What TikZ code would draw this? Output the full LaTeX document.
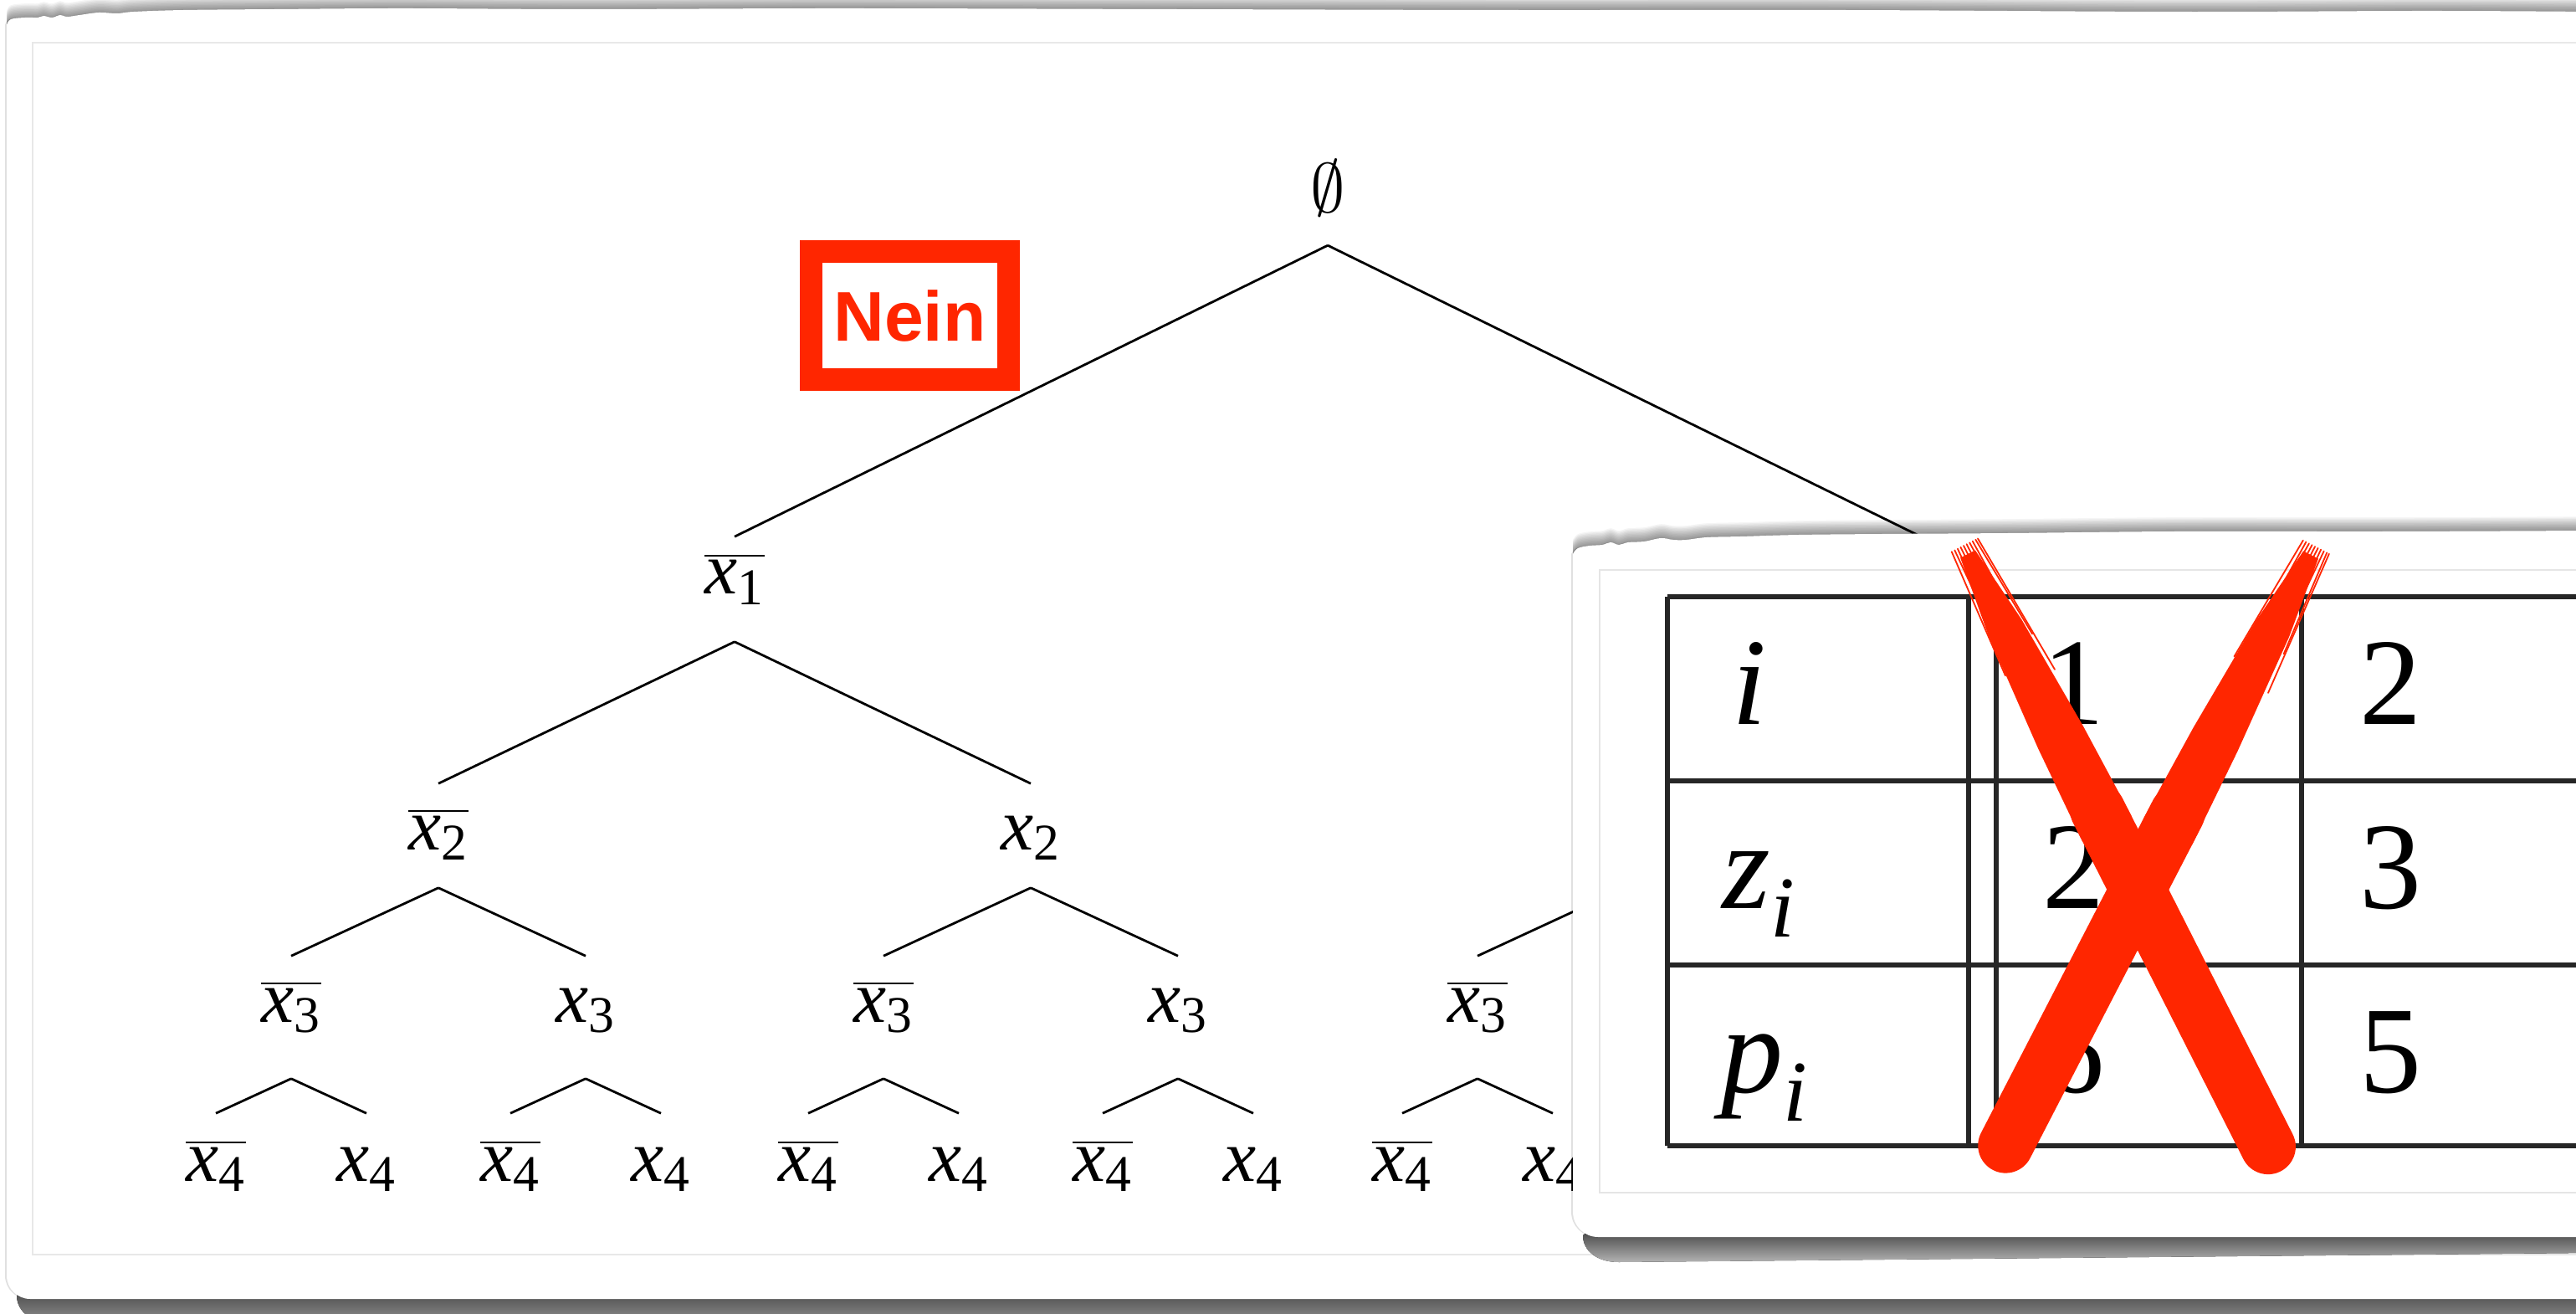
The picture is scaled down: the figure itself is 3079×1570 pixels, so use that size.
\documentclass[tikz,border=0pt]{standalone}
\usepackage{fontspec}
\setmainfont{Liberation Serif}
\newfontfamily\neinfont{Liberation Sans}
\usetikzlibrary{calc}
\definecolor{nred}{RGB}{255,38,0}
\newcommand{\xs}[1]{\textit{x}\textsubscript{#1}}
\newcommand{\xb}[1]{$\overline{\hbox{\xs{#1}}}$}
\newcommand{\vs}[1]{\textit{#1}\textsubscript{\textit{i}}}
\tikzset{
 cardp/.style={insert path={(8,40) -- plot[smooth,tension=0.6] coordinates {(8,30) (13,23) (30,21) (45,21) (52,19) (62,21) (72,18) (80,20) (95,18) (118,15) (140,16) (160,14) (220,12) (330,11) (480,10) (700,11) (1000,10) (1400,11) (1800,12) (2200,12) (2600,14) (2900,13) (3095,14)} -- (3095,1552) -- (36,1552) .. controls (20.5,1552) and (8,1539.5) .. (8,1524) -- cycle}},
 panelp/.style={insert path={(1880,670) -- plot[smooth,tension=0.6] coordinates {(1880,662) (1886,655) (1900,652) (1915,651) (1925,648) (1935,651) (1946,648) (1965,647) (1985,643) (2000,645) (2015,645) (2040,642) (2080,641) (2150,639) (2250,638) (2400,637) (2600,635) (2850,635) (3095,634)} -- (3095,1478) -- (1910,1478) .. controls (1893.4,1478) and (1880,1464.6) .. (1880,1448) -- cycle}},
 tn/.style={font=\fontsize{22}{26}\selectfont, inner sep=0pt, text height=15pt, text depth=4pt, anchor=base},
 tline/.style={draw=black, line width=0.7pt},
 tabl/.style={draw=black!85, line width=1.3pt},
 tabf/.style={font=\fontsize{37}{44}\selectfont, inner sep=0pt, anchor=base},
 brush/.style={nred, line width=16.5pt, line cap=round},
 hair/.style={nred, line width=0.45pt, line cap=round},
}
\begin{document}
\begin{tikzpicture}[x=0.25pt,y=-0.25pt]
\useasboundingbox (0,0) rectangle (3079,1570);
\fill[white] (0,0) rectangle (3079,1570);
% ---------- card ----------
\fill[top color=black!72, bottom color=black!48] (30,1540) -- (3095,1540) -- (3095,1575) -- (40,1575) .. controls (28,1572) and (20,1560) .. (20,1548) -- cycle;
\foreach \k in {1,...,12} {\fill[black, opacity=0.04, yshift=\k*0.35pt, cardp];}
\fill[black, opacity=0.12, xshift=-0.5pt, cardp];
\fill[white, cardp];
\draw[black!9, line width=0.4pt] (39,51) rectangle (3100,1499);
% ---------- tree ----------
\node[font=\fontsize{22}{26}\selectfont, inner sep=0pt] (a) at (1587,225) {$\emptyset$};
\node[tn] (b0) at (878,710) {\xb{1}};
\node[tn] (b1) at (2296,710) {\xs{1}};
\foreach \i/\x in {0/524,1/1232,2/1942,3/2650} {
  \node[tn] (c\i) at (\x,1015) {\ifodd\i \xs{2}\else\xb{2}\fi};
}
\foreach \i/\x in {0/348,1/700,2/1056,3/1408,4/1766,5/2118,6/2474,7/2826} {
  \node[tn] (d\i) at (\x,1221) {\ifodd\i \xs{3}\else\xb{3}\fi};
}
\foreach \i/\x in {0/258,1/438,2/610,3/790,4/966,5/1146,6/1318,7/1498,8/1676,9/1856,10/2028,11/2208,12/2384,13/2564,14/2736,15/2916} {
  \node[tn] (e\i) at (\x,1411) {\ifodd\i \xs{4}\else\xb{4}\fi};
}
\foreach \i in {0,1} {\draw[tline] ([yshift=-8.5pt]a.south) -- ([yshift=2pt]b\i.north);}
\foreach \i in {0,...,3} {\pgfmathtruncatemacro\p{floor(\i/2)}\draw[tline] ([yshift=-10pt]b\p.south) -- ([yshift=4.5pt]c\i.north);}
\foreach \i in {0,...,7} {\pgfmathtruncatemacro\p{floor(\i/2)}\draw[tline] ([yshift=-7.25pt]c\p.south) -- ([yshift=4.5pt]d\i.north);}
\foreach \i in {0,...,15} {\pgfmathtruncatemacro\p{floor(\i/2)}\draw[tline] ([yshift=-12.75pt]d\p.south) -- ([yshift=5pt]e\i.north);}
% ---------- Nein ----------
\node[draw=nred, line width=6.75pt, minimum width=59pt, minimum height=38.25pt, inner sep=0pt, text=nred, font=\neinfont\bfseries\fontsize{21}{25}\selectfont] (nein) at (1087.5,377) {Nein};
% ---------- panel ----------
\fill[top color=black!78, bottom color=black!30] (1905,1466) -- (3095,1466) -- (3095,1497) -- (1935,1508) .. controls (1908,1508) and (1892,1494) .. (1892,1476) -- cycle;
\foreach \k in {1,...,12} {\fill[black, opacity=0.04, yshift=\k*0.35pt, panelp];}
\fill[black, opacity=0.12, xshift=-0.5pt, panelp];
\fill[white, panelp];
\draw[black!10, line width=0.4pt] (1912,681) rectangle (3100,1425);
% ---------- table ----------
\foreach \y in {713,933,1153,1369} {\draw[tabl] (1993,\y) -- (3100,\y);}
\foreach \x in {1993,2353,2386,2751} {\draw[tabl] (\x,713) -- (\x,1369);}
\node[tabf] (ti) at (2091,865) {\textit{i}};
\node[tabf] (tz) at (2103,1085) {\vs{z}};
\node[tabf] (tp) at (2110,1305) {\vs{p}};
\node[tabf] (t11) at (2478,865) {1};
\node[tabf] (t12) at (2478,1085) {2};
\node[tabf] (t13) at (2478,1305) {6};
\node[tabf] (t21) at (2857,865) {2};
\node[tabf] (t22) at (2857,1085) {3};
\node[tabf] (t23) at (2857,1305) {5};
% ---------- red X ----------
\fill[nred] (2360.9,657.5) -- (2416,739.7) -- (2489.8,867.4) -- (2547.9,975.6) -- (2489.1,1005.4) -- (2436.2,894.6) -- (2376.8,759.5) -- (2343.1,666.5) -- cycle;
\draw[brush] (2507.4,968.6) -- (2710.9,1370.1);
\fill[nred] (2770.9,667.6) -- (2735.9,761.3) -- (2674.6,897.3) -- (2620.3,1008.9) -- (2561.7,978.7) -- (2621.4,869.7) -- (2696.9,741.1) -- (2753.1,658.4) -- cycle;
\draw[brush] (2602.4,971.7) -- (2397.2,1368.6);
\foreach \s/\l in {-16/150,-12/230,-8/120,-4/260,0/180,4/240,8/140,12/210,16/120,19/170} {
  \draw[hair] ($(2352,662)+\s*(0.892,-0.452)+(-5,-10)$) -- ($(2352,662)+1.6*\s*(0.892,-0.452)+\l*(0.452,0.892)$);
  \draw[hair] ($(2762,663)+\s*(0.888,0.459)+(5,-10)$) -- ($(2762,663)+1.6*\s*(0.888,0.459)+\l*(-0.459,0.888)$);
}
\end{tikzpicture}
\end{document}
